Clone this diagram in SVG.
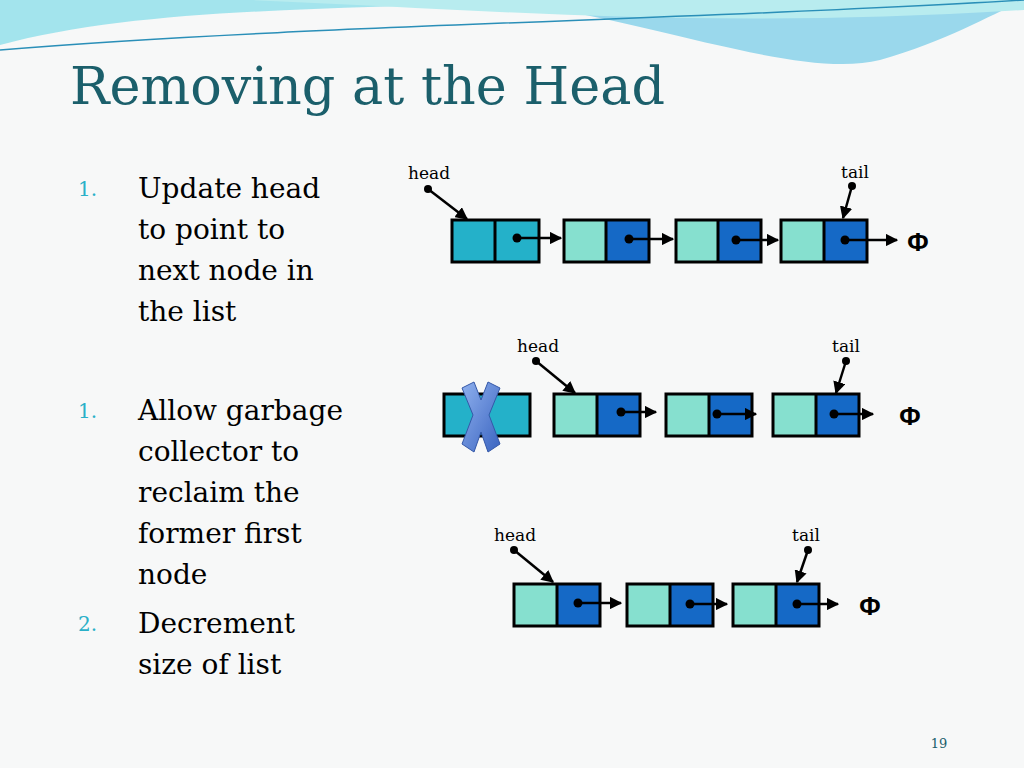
<svg xmlns="http://www.w3.org/2000/svg" width="1024" height="768" viewBox="0 0 1024 768">
<defs>
<marker id="ah" viewBox="0 0 10 10" refX="9" refY="5" markerWidth="5" markerHeight="5" orient="auto"><path d="M0,0 L10,5 L0,10 z" fill="#000"/></marker>
<linearGradient id="xg" x1="0" y1="0" x2="1" y2="1"><stop offset="0" stop-color="#8fb0ee"/><stop offset="1" stop-color="#3a64c0"/></linearGradient>
</defs>
<style>
.b{font-family:"DejaVu Serif",serif;font-size:28px;fill:#000}
.n{font-family:"DejaVu Serif",serif;font-size:20px;fill:#2ab0c8}
.lbl{font-family:"DejaVu Serif",serif;font-size:17px;fill:#000;text-anchor:middle}
.phi{font-family:"Liberation Sans",sans-serif;font-size:26px;font-weight:bold;text-anchor:middle}
.c{stroke:#000;stroke-width:3}
.l{fill:#86e0cf}.d{fill:#1569c6}.h{fill:#24b1c9}
.p{stroke:#000;stroke-width:3;fill:none}
</style>
<rect width="1024" height="768" fill="#f7f8f8"/>
<path d="M0,45 C150,5 350,10 600,0 L0,0 z" fill="#7fdbe8" opacity="0.7"/>
<path d="M500,0 C650,20 800,80 880,60 C950,40 1000,10 1024,0 z" fill="#9ad8ec"/>
<path d="M250,0 C500,10 700,30 1024,10 L1024,0 z" fill="#b8ecef"/>
<path d="M0,50 C300,25 700,20 1024,0" stroke="#2a8fb8" stroke-width="1.5" fill="none"/>
<text x="70" y="104" font-family="DejaVu Serif,serif" font-size="52" fill="#1b5f6b" textLength="595" lengthAdjust="spacingAndGlyphs">Removing at the Head</text>
<g id="text">
<text class="n" x="78" y="196">1.</text>
<text class="b" x="138" y="198">Update head</text>
<text class="b" x="138" y="239">to point to</text>
<text class="b" x="138" y="280">next node in</text>
<text class="b" x="138" y="321">the list</text>
<text class="n" x="78" y="418">1.</text>
<text class="b" x="138" y="420">Allow garbage</text>
<text class="b" x="138" y="461">collector to</text>
<text class="b" x="138" y="502">reclaim the</text>
<text class="b" x="138" y="543">former first</text>
<text class="b" x="138" y="584">node</text>
<text class="n" x="78" y="631">2.</text>
<text class="b" x="138" y="633">Decrement</text>
<text class="b" x="138" y="674">size of list</text>
</g>
<g id="row1">
<rect class="h" x="452" y="220" width="87" height="42"/><line class="c" x1="495" y1="220" x2="495" y2="262"/><rect x="452" y="220" width="87" height="42" class="p"/>
<rect class="l" x="564" y="220" width="42" height="42"/><rect class="d" x="606" y="220" width="43" height="42"/><line class="c" x1="606" y1="220" x2="606" y2="262"/><rect x="564" y="220" width="85" height="42" class="p"/>
<rect class="l" x="676" y="220" width="42" height="42"/><rect class="d" x="718" y="220" width="43" height="42"/><line class="c" x1="718" y1="220" x2="718" y2="262"/><rect x="676" y="220" width="85" height="42" class="p"/>
<rect class="l" x="781" y="220" width="43" height="42"/><rect class="d" x="824" y="220" width="43" height="42"/><line class="c" x1="824" y1="220" x2="824" y2="262"/><rect x="781" y="220" width="86" height="42" class="p"/>
<text class="lbl" x="429" y="179">head</text><text class="lbl" x="855" y="178">tail</text>
<text class="phi" x="918" y="251">Φ</text>
</g>
<g id="row2">
<rect class="h" x="444" y="394" width="86" height="42"/><rect x="444" y="394" width="86" height="42" class="p"/>
<path d="M462,388 L474,382 L481,400 L488,382 L500,388 L489,415 L500,444 L488,452 L481,432 L474,452 L462,444 L473,415 z" fill="url(#xg)" stroke="#3458a8" stroke-width="1"/>
<rect class="l" x="554" y="394" width="43" height="42"/><rect class="d" x="597" y="394" width="43" height="42"/><line class="c" x1="597" y1="394" x2="597" y2="436"/><rect x="554" y="394" width="86" height="42" class="p"/>
<rect class="l" x="666" y="394" width="43" height="42"/><rect class="d" x="709" y="394" width="43" height="42"/><line class="c" x1="709" y1="394" x2="709" y2="436"/><rect x="666" y="394" width="86" height="42" class="p"/>
<rect class="l" x="773" y="394" width="43" height="42"/><rect class="d" x="816" y="394" width="43" height="42"/><line class="c" x1="816" y1="394" x2="816" y2="436"/><rect x="773" y="394" width="86" height="42" class="p"/>
<text class="lbl" x="538" y="352">head</text><text class="lbl" x="846" y="352">tail</text>
<text class="phi" x="910" y="425">Φ</text>
</g>
<g id="row3">
<rect class="l" x="514" y="584" width="43" height="42"/><rect class="d" x="557" y="584" width="43" height="42"/><line class="c" x1="557" y1="584" x2="557" y2="626"/><rect x="514" y="584" width="86" height="42" class="p"/>
<rect class="l" x="627" y="584" width="43" height="42"/><rect class="d" x="670" y="584" width="43" height="42"/><line class="c" x1="670" y1="584" x2="670" y2="626"/><rect x="627" y="584" width="86" height="42" class="p"/>
<rect class="l" x="733" y="584" width="43" height="42"/><rect class="d" x="776" y="584" width="43" height="42"/><line class="c" x1="776" y1="584" x2="776" y2="626"/><rect x="733" y="584" width="86" height="42" class="p"/>
<text class="lbl" x="515" y="541">head</text><text class="lbl" x="806" y="541">tail</text>
<text class="phi" x="870" y="615">Φ</text>
</g>
<g id="connectors" stroke="#000" stroke-width="2.5" marker-end="url(#ah)">
<line x1="428" y1="189" x2="467" y2="219"/><line x1="852" y1="186" x2="843" y2="218"/>
<line x1="517" y1="238" x2="561" y2="238"/><line x1="629" y1="239" x2="673" y2="239"/><line x1="736" y1="240" x2="778" y2="240"/><line x1="845" y1="240" x2="897" y2="240"/>
<line x1="536" y1="361" x2="575" y2="393"/><line x1="846" y1="361" x2="836" y2="393"/>
<line x1="621" y1="412" x2="656" y2="412"/><line x1="717" y1="414" x2="756" y2="414"/><line x1="834" y1="414" x2="873" y2="414"/>
<line x1="514" y1="550" x2="553" y2="582"/><line x1="808" y1="550" x2="797" y2="582"/>
<line x1="578" y1="603" x2="621" y2="603"/><line x1="690" y1="604" x2="727" y2="604"/><line x1="797" y1="604" x2="838" y2="604"/>
</g>
<g id="dots" fill="#000">
<circle cx="428" cy="189" r="4"/><circle cx="852" cy="186" r="4"/><circle cx="517" cy="238" r="4.5"/><circle cx="629" cy="239" r="4.5"/><circle cx="736" cy="240" r="4.5"/><circle cx="845" cy="240" r="4.5"/>
<circle cx="536" cy="361" r="4"/><circle cx="846" cy="361" r="4"/><circle cx="621" cy="412" r="4.5"/><circle cx="717" cy="414" r="4.5"/><circle cx="834" cy="414" r="4.5"/>
<circle cx="514" cy="550" r="4"/><circle cx="808" cy="550" r="4"/><circle cx="578" cy="603" r="4.5"/><circle cx="690" cy="604" r="4.5"/><circle cx="797" cy="604" r="4.5"/>
</g>
<text x="939" y="748" font-family="DejaVu Serif,serif" font-size="13" fill="#1b5f6b" text-anchor="middle">19</text>
</svg>
